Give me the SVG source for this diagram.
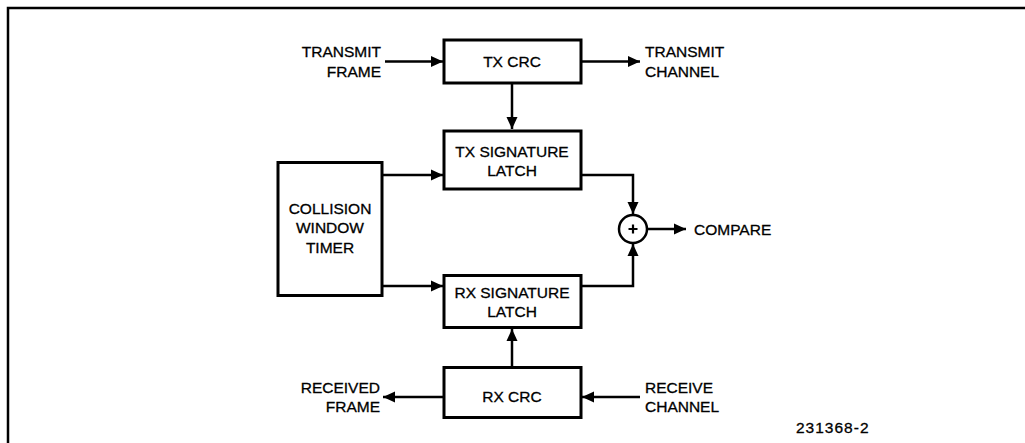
<svg xmlns="http://www.w3.org/2000/svg" width="1025" height="443" viewBox="0 0 1025 443">
<style>
.box{fill:#fff;stroke:#000;stroke-width:3}
.wire{fill:none;stroke:#000;stroke-width:2.5}
text{font-family:"Liberation Sans",Arial,sans-serif;font-size:15.5px;fill:#000;stroke:#000;stroke-width:0.3}
.c{text-anchor:middle}
.e{text-anchor:end}
</style>
<defs>
<marker id="ah" markerUnits="userSpaceOnUse" markerWidth="13" markerHeight="12" refX="12" refY="6" orient="auto">
<path d="M0,0.5 L12,6 L0,11.5 z" fill="#000"/>
</marker>
</defs>
<rect width="1025" height="443" fill="#fff"/>
<path d="M8,443 V8 H1025" fill="none" stroke="#000" stroke-width="2.5"/>
<g id="connectors">
<path class="wire" d="M385,61.5 H443" marker-end="url(#ah)"/>
<path class="wire" d="M582,61.5 H640" marker-end="url(#ah)"/>
<path class="wire" d="M512,84 V129" marker-end="url(#ah)"/>
<path class="wire" d="M383,175 H443" marker-end="url(#ah)"/>
<path class="wire" d="M383,286 H443" marker-end="url(#ah)"/>
<path class="wire" d="M582,175 H633 V214" marker-end="url(#ah)"/>
<path class="wire" d="M582,286 H633 V244" marker-end="url(#ah)"/>
<path class="wire" d="M648,229 H686" marker-end="url(#ah)"/>
<path class="wire" d="M512,366 V329" marker-end="url(#ah)"/>
<path class="wire" d="M443,397 H383" marker-end="url(#ah)"/>
<path class="wire" d="M640,397 H582" marker-end="url(#ah)"/>
</g>
<g id="transmit-frame">
<text class="e" x="381" y="57">TRANSMIT</text>
<text class="e" x="381" y="77">FRAME</text>
</g>
<g id="tx-crc">
<rect class="box" x="444" y="40" width="137" height="43"/>
<text class="c" x="512" y="67">TX CRC</text>
</g>
<g id="transmit-channel">
<text x="645" y="57">TRANSMIT</text>
<text x="645" y="77">CHANNEL</text>
</g>
<g id="tx-signature-latch">
<rect class="box" x="444" y="131" width="137" height="58"/>
<text class="c" x="512" y="157">TX SIGNATURE</text>
<text class="c" x="512" y="176">LATCH</text>
</g>
<g id="collision-window-timer">
<rect class="box" x="278" y="162.5" width="104" height="133"/>
<text class="c" x="330" y="214">COLLISION</text>
<text class="c" x="330" y="233">WINDOW</text>
<text class="c" x="330" y="253">TIMER</text>
</g>
<g id="comparator">
<circle cx="633" cy="229" r="14" fill="#fff" stroke="#000" stroke-width="2.5"/>
<path d="M628.5,229 H637.5 M633,224.5 V233.5" stroke="#000" stroke-width="2.2"/>
</g>
<g id="compare">
<text x="694" y="235">COMPARE</text>
</g>
<g id="rx-signature-latch">
<rect class="box" x="444" y="275.5" width="137" height="52"/>
<text class="c" x="512" y="297.5">RX SIGNATURE</text>
<text class="c" x="512" y="316.5">LATCH</text>
</g>
<g id="rx-crc">
<rect class="box" x="444" y="367.5" width="137" height="50"/>
<text class="c" x="512" y="402">RX CRC</text>
</g>
<g id="received-frame">
<text class="e" x="380" y="392.5">RECEIVED</text>
<text class="e" x="380" y="411.5">FRAME</text>
</g>
<g id="receive-channel">
<text x="645" y="392.5">RECEIVE</text>
<text x="645" y="411.5">CHANNEL</text>
</g>
<text x="796" y="433" letter-spacing="1">231368-2</text>
</svg>
